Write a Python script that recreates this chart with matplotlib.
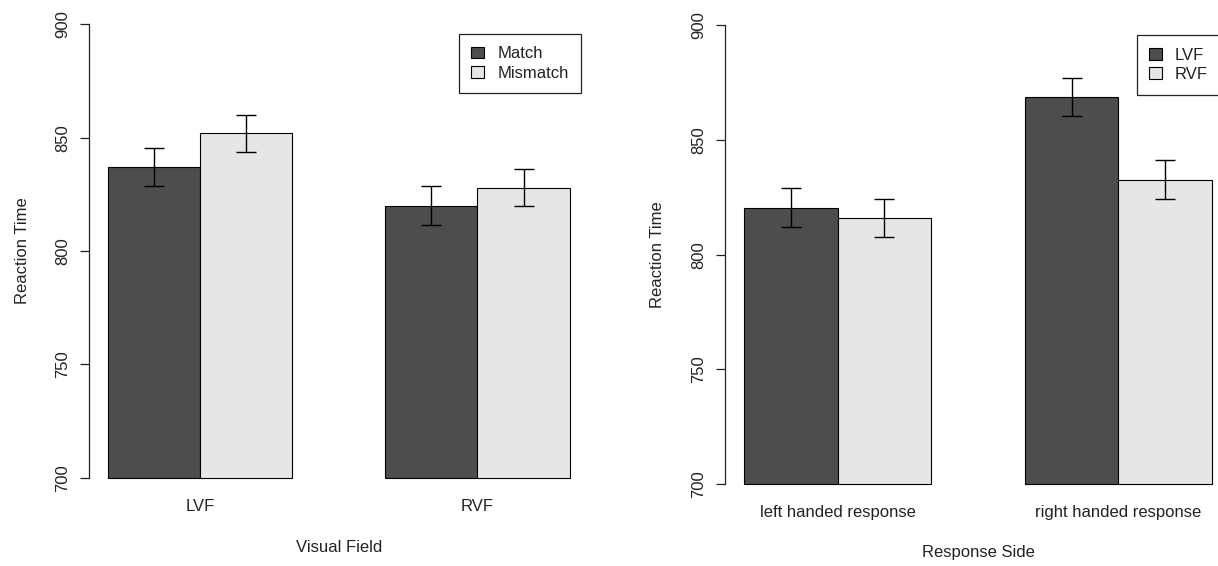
import numpy as np
import matplotlib
matplotlib.use("Agg")
import matplotlib.pyplot as plt

# --- data ---
vf_groups = ["LVF", "RVF"]
vf_match = [837.0, 820.0]
vf_match_err = [8.3, 8.5]
vf_mismatch = [852.0, 828.0]
vf_mismatch_err = [8.2, 8.3]

side_groups = ["left handed response", "right handed response"]
side_lvf = [820.5, 868.8]
side_lvf_err = [8.6, 8.3]
side_rvf = [816.0, 832.6]
side_rvf_err = [8.3, 8.5]

BASE = 700
DARK, LIGHT = "#4d4d4d", "#e6e6e6"
TXT = "#222222"

plt.rcParams["font.family"] = ["Liberation Sans", "DejaVu Sans"]
plt.rcParams["font.size"] = 12

W, H = 1218, 566
fig = plt.figure(figsize=(W / 100, H / 100), dpi=100)


def px_axes(left, top, right, bottom):
    """axes from pixel box (top-left origin)"""
    return fig.add_axes([left / W, 1 - bottom / H, (right - left) / W, (bottom - top) / H])


def panel(ax, groups, a, a_err, b, b_err, names, xlabel, leg_xy):
    centers = np.array([2.0, 5.0])  # R barplot beside=TRUE, space=c(0,1)
    ax.bar(centers - 0.5, np.array(a) - BASE, bottom=BASE, width=1.0,
           color=DARK, edgecolor="black", linewidth=0.8, label=names[0])
    ax.bar(centers + 0.5, np.array(b) - BASE, bottom=BASE, width=1.0,
           color=LIGHT, edgecolor="black", linewidth=0.8, label=names[1])
    ax.errorbar(centers - 0.5, a, yerr=a_err, fmt="none", ecolor="black",
                elinewidth=1.0, capsize=7.5, capthick=1.0)
    ax.errorbar(centers + 0.5, b, yerr=b_err, fmt="none", ecolor="black",
                elinewidth=1.0, capsize=7.5, capthick=1.0)

    ax.set_xlim(0.8, 6.2)
    ax.set_ylim(692, 908)
    for s in ["top", "right", "bottom"]:
        ax.spines[s].set_visible(False)
    ax.spines["left"].set_bounds(700, 900)
    ax.spines["left"].set_linewidth(0.9)
    ax.spines["left"].set_color("#222222")
    ax.set_yticks([700, 750, 800, 850, 900])
    ax.set_yticklabels(["700", "750", "800", "850", "900"], rotation=90,
                       va="center", color=TXT)
    ax.tick_params(axis="y", length=6.5, width=0.9, pad=7, colors="#222222")
    ax.set_xticks(centers)
    ax.set_xticklabels(groups, color=TXT)
    ax.tick_params(axis="x", length=0, pad=2)
    ax.set_ylabel("Reaction Time", color=TXT)
    ax.yaxis.set_label_coords(-0.119, 0.5)
    ax.set_xlabel(xlabel, color=TXT)

    leg = ax.legend(loc="upper left", bbox_to_anchor=leg_xy, borderaxespad=0,
                    fancybox=False, frameon=True, edgecolor="#222222",
                    handlelength=0.75, handleheight=0.7, handletextpad=0.8,
                    labelspacing=0.27, borderpad=0.75, framealpha=1)
    leg.get_frame().set_linewidth(0.9)
    for t in leg.get_texts():
        t.set_color(TXT)
    return leg


ax1 = px_axes(89.2, 6.2, 588.2, 496.0)
panel(ax1, vf_groups, vf_match, vf_match_err, vf_mismatch, vf_mismatch_err,
      ["Match", "Mismatch"], "Visual Field", (0.741, 0.9433))
ax1.xaxis.set_label_coords(0.5, -0.0898)

ax2 = px_axes(725.3, 6.9, 1230.7, 502.5)
panel(ax2, side_groups, side_lvf, side_lvf_err, side_rvf, side_rvf_err,
      ["LVF", "RVF"], "Response Side", (0.814, 0.9433))
ax2.xaxis.set_label_coords(0.5, -0.0858)

fig.savefig("out.png", dpi=100)
